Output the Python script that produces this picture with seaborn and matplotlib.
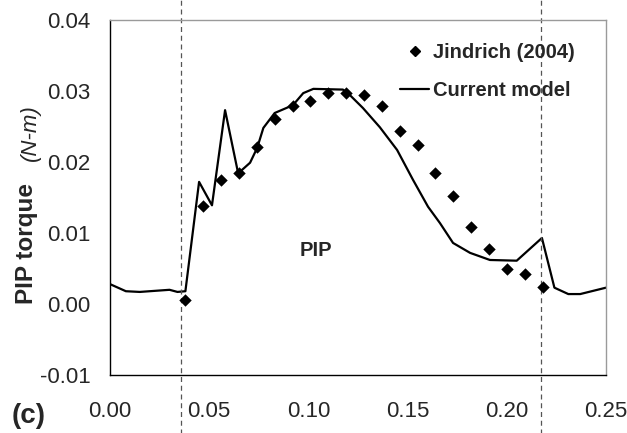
import matplotlib
matplotlib.use("Agg")
import matplotlib.pyplot as plt
import seaborn as sns
import pandas as pd
from matplotlib.lines import Line2D

# Model curve (Current model)
model_t = [0.000, 0.008, 0.015, 0.025, 0.030, 0.034, 0.038, 0.0449, 0.0514, 0.058,
           0.0646, 0.0706, 0.0742, 0.0773, 0.083, 0.0922, 0.0974, 0.1025, 0.1174,
           0.121, 0.1275, 0.136, 0.1447, 0.1527, 0.1603, 0.1663, 0.1729, 0.1815, 0.1915,
           0.205, 0.2177, 0.224, 0.231, 0.237, 0.250]
model_v = [0.0028, 0.0018, 0.0017, 0.0019, 0.0020, 0.0017, 0.0018, 0.0172, 0.0139, 0.0273,
           0.0184, 0.0199, 0.0220, 0.0248, 0.0269, 0.0280, 0.0297, 0.0303, 0.0302,
           0.0294, 0.0276, 0.0249, 0.0217, 0.0175, 0.0137, 0.0114, 0.0086, 0.0072, 0.0062,
           0.0061, 0.0093, 0.0023, 0.0014, 0.0014, 0.0023]

# Jindrich (2004) data
jin_t = [0.038, 0.047, 0.056, 0.065, 0.074, 0.083, 0.092, 0.101, 0.110, 0.119, 0.128,
         0.137, 0.146, 0.155, 0.164, 0.173, 0.182, 0.191, 0.200, 0.209, 0.218]
jin_v = [0.0006, 0.0138, 0.0175, 0.0185, 0.0221, 0.0260, 0.0279, 0.0286, 0.0297, 0.0297,
         0.0294, 0.0279, 0.0244, 0.0224, 0.0185, 0.0152, 0.0108, 0.0077, 0.0049, 0.0042,
         0.0024]

phase_lines = [0.036, 0.217]
xticks = [0.00, 0.05, 0.10, 0.15, 0.20, 0.25]
yticks = [-0.01, 0.00, 0.01, 0.02, 0.03, 0.04]

sns.set_style("white")
plt.rcParams['font.family'] = ['Liberation Sans', 'DejaVu Sans']

fig = plt.figure(figsize=(6.27, 4.33), dpi=100)
ax = fig.add_axes([110/627, 58/433, 496/627, 355/433])

dm = pd.DataFrame({"t": model_t, "v": model_v})
dj = pd.DataFrame({"t": jin_t, "v": jin_v})

sns.lineplot(data=dm, x="t", y="v", sort=False, color="black", linewidth=1.6, ax=ax)
sns.scatterplot(data=dj, x="t", y="v", marker="D", s=40, color="black",
                edgecolor="black", linewidth=0, ax=ax, zorder=5)

for xv in phase_lines:
    ax.axvline(xv, ymin=-0.17, ymax=1.06, color="#555555", linestyle=(0, (4, 3)),
               linewidth=0.9, clip_on=False)

ax.set_xlim(0, 0.25)
ax.set_ylim(-0.01, 0.04)
ax.set_xticks(xticks)
ax.set_yticks(yticks)
ax.set_xticklabels([f"{v:.2f}" for v in xticks])
ax.set_yticklabels([f"{v:.2f}" for v in yticks])
ax.tick_params(axis="both", direction="out", length=6, width=1, color="black",
               labelsize=16)
ax.tick_params(axis="y", pad=8)
ax.tick_params(axis="x", pad=13)
ax.set_xlabel("")
ax.set_ylabel("")

for s in ["left", "bottom"]:
    ax.spines[s].set_color("black")
    ax.spines[s].set_linewidth(1.0)
for s in ["top", "right"]:
    ax.spines[s].set_color("#9a9a9a")
    ax.spines[s].set_linewidth(1.0)

fig.text(26/627, 1 - 243/433, "PIP torque", rotation=90, ha="center", va="center",
         fontsize=17.5, fontweight="bold")
fig.text(30/627, 1 - 133/433, "(N-m)", rotation=90, ha="center", va="center",
         fontsize=16, fontstyle="italic")
fig.text(29/627, 1 - 416/433, "(c)", ha="center", va="center", fontsize=20,
         fontweight="bold")
ax.text(0.1040, 0.0076, "PIP", ha="center", va="center", fontsize=14.5, fontweight="bold")

handles = [Line2D([], [], marker="D", color="black", linestyle="none", markersize=5.5),
           Line2D([], [], color="black", linewidth=1.6)]
leg = ax.legend(handles, ["Jindrich (2004)", "Current model"], loc="upper left",
                bbox_to_anchor=(400/627, 1 - 43/433), bbox_transform=fig.transFigure,
                frameon=False, handlelength=1.45, handletextpad=0.2, labelspacing=0.95,
                borderpad=0, borderaxespad=0,
                prop={"weight": "bold", "size": 14.5})

fig.savefig("out.png", dpi=100, facecolor="white")
